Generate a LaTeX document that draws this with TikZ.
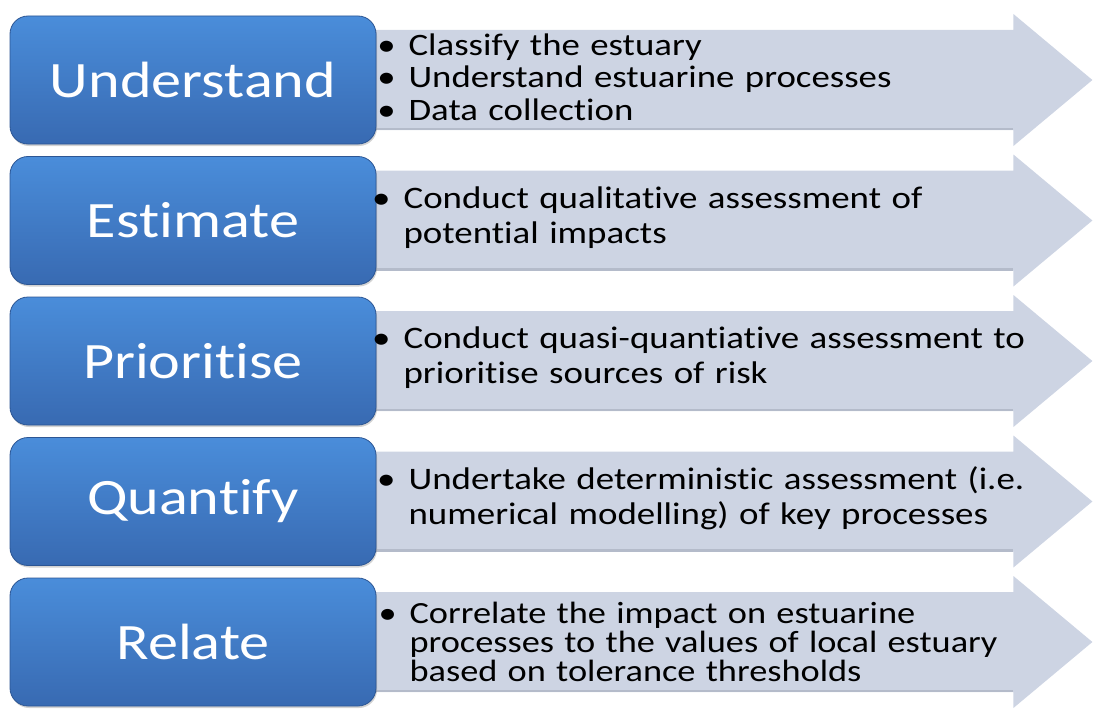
\documentclass[tikz,border=0pt]{standalone}
\usepackage{fontspec}
\setmainfont{Carlito}[FakeStretch=1.18, Ligatures=NoCommon]
\usetikzlibrary{positioning,shadows,backgrounds}

\definecolor{stagetop}{RGB}{74,141,218}
\definecolor{stagebot}{RGB}{56,106,178}
\definecolor{stageedge}{RGB}{44,86,148}
\definecolor{bandfill}{RGB}{205,212,227}
\definecolor{bandshade}{RGB}{180,187,202}

\newcommand{\bul}{\leavevmode\llap{\textbullet\hspace{13pt}}}

\begin{document}
\begin{tikzpicture}[x=1pt, y=1pt, node distance=140.5pt]
    \useasboundingbox (0,0) rectangle (1096,-709);
    % Define styles
    \tikzstyle{stage} = [rectangle, rounded corners=18pt, minimum width=366pt, minimum height=128pt, top color=stagetop, bottom color=stagebot, draw=stageedge, line width=0.8pt, text=white, font=\fontsize{51}{55}\selectfont, drop shadow={opacity=0.35, shadow xshift=1pt, shadow yshift=-2pt}]
    \tikzstyle{band} = [fill=bandfill]
    \tikzstyle{points} = [anchor=west, align=left, inner sep=0pt, text width=680pt, font=\fontsize{31.3}{35}\selectfont]

    % Nodes
    \node[stage] (und) at (193,-80) {Understand};
    \node[stage, below of=und] (est) {Estimate};
    \node[stage, below of=est] (pri) {Prioritise};
    \node[stage, below of=pri] (qua) {Quantify};
    \node[stage, below of=qua] (rel) {Relate};

    % Arrows behind the stages
    \begin{scope}[on background layer]
        \foreach \s in {und,est,pri,qua,rel} {
            \fill[band] ([shift={(-12,50)}]\s.east) -- ++(649,0) -- ++(0,16) -- ++(79,-66) -- ++(-79,-66) -- ++(0,16) -- ++(-649,0) -- cycle;
            \fill[bandshade] ([shift={(-12,-50)}]\s.east) rectangle ++(649,2.5);
        }
    \end{scope}

    % Activities
    \node[points, font=\fontsize{31.2}{32.5}\selectfont, right=32pt of und.east, yshift=3pt] (und-txt) {\bul Classify the estuary\\ \bul Understand estuarine processes\\ \bul Data collection};
    \node[points, right=27pt of est.east, yshift=3pt] (est-txt) {\bul Conduct qualitative assessment of\\ potential impacts};
    \node[points, right=27pt of pri.east, yshift=3pt] (pri-txt) {\bul Conduct quasi-quantiative assessment to\\ prioritise sources of risk};
    \node[points, right=32pt of qua.east, yshift=3pt] (qua-txt) {\bul Undertake deterministic assessment (i.e.\\ numerical modelling) of key processes};
    \node[points, font=\fontsize{30.8}{29}\selectfont, right=33pt of rel.east, yshift=0pt] (rel-txt) {\bul Correlate the impact on estuarine\\ processes to the values of local estuary\\ based on tolerance thresholds};
\end{tikzpicture}
\end{document}
